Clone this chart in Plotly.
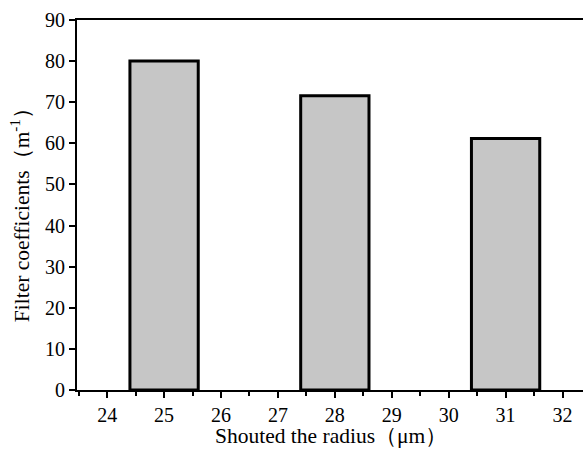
import plotly.graph_objects as go

radius = [25, 28, 31]
coeffs = [80, 71.6, 61.2]
x_ticks = [24, 25, 26, 27, 28, 29, 30, 31, 32]
y_ticks = [0, 10, 20, 30, 40, 50, 60, 70, 80, 90]
x_title = "Shouted the radius（μm）"
y_title = "Filter coefficients（m<sup>-1</sup>）"

FONT = "Liberation Serif"

fig = go.Figure(go.Bar(
    x=radius, y=coeffs, width=1.2,
    marker=dict(color="#c6c6c6", line=dict(color="black", width=3)),
))

fig.update_layout(
    width=583, height=450,
    margin=dict(l=77, r=0, t=20, b=60),
    paper_bgcolor="white", plot_bgcolor="white",
    font=dict(family=FONT, color="black", size=20),
    showlegend=False,
)
fig.update_xaxes(
    range=[23.47, 32.36], tickvals=x_ticks, ticktext=[str(v) for v in x_ticks],
    showline=True, linecolor="black", linewidth=2, mirror=True,
    ticks="outside", ticklen=6, tickwidth=2, tickcolor="black",
    minor=dict(ticks="outside", ticklen=4, tickwidth=2, tickcolor="black", dtick=0.5, tick0=23.5, showgrid=False),
    showgrid=False, zeroline=False,
    tickfont=dict(size=20),
)
fig.update_yaxes(
    range=[0, 90], tickvals=y_ticks,
    showline=True, linecolor="black", linewidth=2,
    ticks="outside", ticklen=6, tickwidth=2, tickcolor="black",
    showgrid=False, zeroline=False,
    tickfont=dict(size=20),
)
fig.add_annotation(text=x_title, xref="paper", yref="paper", x=0.502, y=-0.124,
                   xanchor="center", yanchor="middle", showarrow=False,
                   font=dict(size=21.5, family=FONT))
fig.add_annotation(text=y_title, xref="paper", yref="paper", x=-0.1126, y=0.486,
                   xanchor="center", yanchor="middle", showarrow=False, textangle=-90,
                   font=dict(size=21.5, family=FONT))
fig.write_html("out.html")
